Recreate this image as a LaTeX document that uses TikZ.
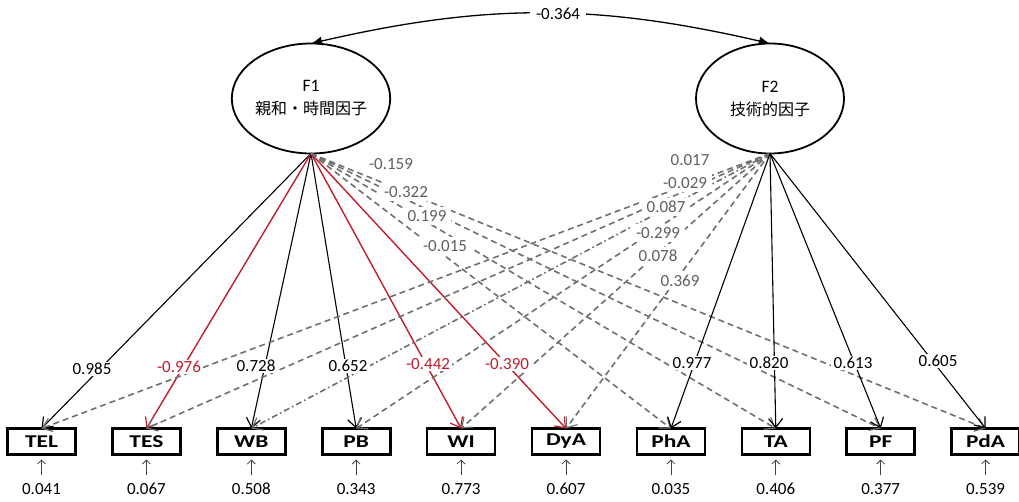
\documentclass[tikz,border=0pt]{standalone}
\usepackage{fontspec}
\setmainfont{Carlito}
\newfontfamily\jpfont{Noto Sans CJK JP}
\newfontfamily\boxfont{Carlito}[FakeStretch=1.3]
\usetikzlibrary{arrows.meta,shapes.geometric}
\definecolor{pathred}{RGB}{192,30,45}
\definecolor{pathgray}{RGB}{112,112,112}
\definecolor{labelgray}{RGB}{96,96,96}
\definecolor{errgray}{RGB}{60,66,70}

\begin{document}
\begin{tikzpicture}[x=1pt,y=1pt,
  factor/.style={draw, line width=1.8pt, ellipse, minimum width=148pt, minimum height=110pt,
    inner sep=0pt, outer sep=0pt, align=center, font=\fontsize{17.5}{24}\selectfont},
  observed/.style={draw, line width=2.6pt, minimum width=68pt, minimum height=26pt,
    inner sep=0pt, outer sep=0pt, font=\boxfont\bfseries\fontsize{18}{18}\selectfont},
  tip/.style={-{Straight Barb[length=9pt,width=14pt,line width=1.2pt]}},
  loadblack/.style={tip, line width=1.1pt, black},
  loadred/.style={tip, line width=1.4pt, pathred},
  cross/.style={tip, line width=1.6pt, pathgray, dash pattern=on 6pt off 4pt},
  crossdot/.style={tip, line width=1.6pt, pathgray, dash pattern=on 6pt off 3pt on 1.6pt off 3pt},
  coef/.style={fill=white, inner xsep=2.5pt, inner ysep=1pt, font=\fontsize{17}{17}\selectfont},
  coefred/.style={coef, text=pathred},
  coefgray/.style={coef, text=labelgray, inner xsep=5pt, inner ysep=3pt},
  errval/.style={inner sep=0pt, font=\fontsize{17}{17}\selectfont},
  resid/.style={-{Straight Barb[length=4pt,width=8pt,line width=0.8pt]}, line width=0.8pt, errgray}
]
\useasboundingbox (0,0) rectangle (1019,501);

% latent factors
\node[factor] (F1) at (311,402.5) {F1\\[-1pt]{\jpfont\fontsize{16}{20}\selectfont 親和・時間因子}};
\node[factor] (F2) at (770,402.5) {F2\\[-1pt]{\jpfont\fontsize{16}{20}\selectfont 技術的因子}};

% factor covariance
\draw[{Latex[length=11pt,width=9pt]}-{Latex[length=11pt,width=9pt]}, line width=1.3pt]
  (F1.north) to[bend left=13] (F2.north);
\node[coef, inner xsep=6pt] (cov) at (558,487) {-0.364};

% observed variables, residual arrows and error variances
\foreach \v/\e [count=\i from 0] in {TEL/0.041, TES/0.067, WB/0.508, PB/0.343, WI/0.773,
    DyA/0.607, PhA/0.035, TA/0.406, PF/0.377, PdA/0.539} {
  \node[observed] (\v) at ({41.5+104.9*\i},59.5) {\v};
  \node[errval] (e\v) at ({41.5+104.9*\i},12) {\e};
  \coordinate (r\v) at ({41.5+104.9*\i},26);
  \draw[resid, shorten >=5pt] (r\v) -- (\v);
}

% loadings of F1
\draw[loadblack] (F1.south) -- (TEL.north);
\draw[loadred]   (F1.south) -- (TES.north);
\draw[loadblack] (F1.south) -- (WB.north);
\draw[loadblack] (F1.south) -- (PB.north);
\draw[loadred]   (F1.south) -- (WI.north);
\draw[loadred]   (F1.south) -- (DyA.north);
\draw[cross] (F1.south) -- (PhA.north);
\draw[cross] (F1.south) -- (TA.north);
\draw[cross] (F1.south) -- (PF.north);
\draw[cross] (F1.south) -- (PdA.north);

% loadings of F2
\draw[cross]    (F2.south) -- (TEL.north);
\draw[cross]    (F2.south) -- (TES.north);
\draw[crossdot] (F2.south) -- (WB.north);
\draw[cross]    (F2.south) -- (PB.north);
\draw[cross]    (F2.south) -- (WI.north);
\draw[cross]    (F2.south) -- (DyA.north);
\draw[loadblack] (F2.south) -- (PhA.north);
\draw[loadblack] (F2.south) -- (TA.north);
\draw[loadblack] (F2.south) -- (PF.north);
\draw[loadblack] (F2.south) -- (PdA.north);

% coefficients of the main loadings
\node[coef]    (kTEL) at (92,132)  {0.985};
\node[coefred] (kTES) at (179,134) {-0.976};
\node[coef]    (kWB)  at (256,135) {0.728};
\node[coef]    (kPB)  at (348,135) {0.652};
\node[coefred] (kWI)  at (428,137) {-0.442};
\node[coefred] (kDyA) at (507,137) {-0.390};
\node[coef]    (kPhA) at (692,138) {0.977};
\node[coef]    (kTA)  at (769,138) {0.820};
\node[coef]    (kPF)  at (853,138) {0.613};
\node[coef]    (kPdA) at (938,140) {0.605};

% coefficients of the cross loadings
\node[coefgray] (cTA)  at (391,337) {-0.159};
\node[coefgray] (cPdA) at (406,309) {-0.322};
\node[coefgray] (cPF)  at (427,285) {0.199};
\node[coefgray] (cPhA) at (445,255) {-0.015};
\node[coefgray] (cTES) at (690,341) {0.017};
\node[coefgray] (cTEL) at (685,318) {-0.029};
\node[coefgray] (cWB)  at (666,294) {0.087};
\node[coefgray] (cPB)  at (658,268) {-0.299};
\node[coefgray] (cWI)  at (658,245) {0.078};
\node[coefgray] (cDyA) at (680,220) {0.369};
\end{tikzpicture}
\end{document}
